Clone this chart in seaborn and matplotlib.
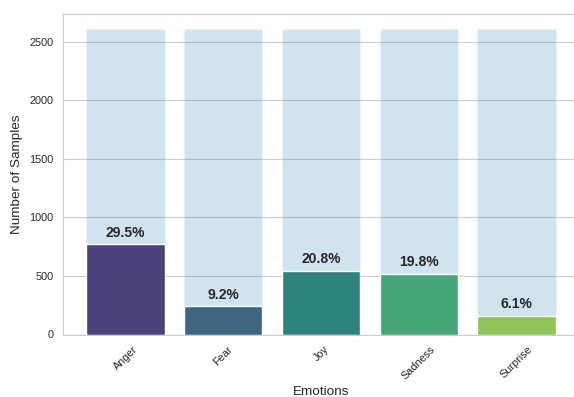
import matplotlib
matplotlib.use("Agg")
import matplotlib.pyplot as plt
import seaborn as sns
import numpy as np

emotions = ["Anger", "Fear", "Joy", "Sadness", "Surprise"]
counts = [769, 240, 542, 516, 159]
total_samples = 2606
totals = [total_samples] * len(emotions)

sns.set_style("whitegrid")
plt.rcParams['font.family'] = ['Liberation Sans', 'DejaVu Sans']

fig = plt.figure(figsize=(5.74, 3.97), dpi=100)
ax = fig.add_axes([63 / 574, (397 - 334.5) / 397, (579 - 63) / 574, (334.5 - 14) / 397])

sns.barplot(x=emotions, y=totals, color="#1f77b4", alpha=0.2, saturation=1, ax=ax, width=0.8)
sns.barplot(x=emotions, y=counts, hue=emotions, palette="viridis", legend=False, ax=ax, width=0.8)

for i, c in enumerate(counts):
    ax.text(i, c + 40, f"{c / total_samples * 100:.1f}%", ha="center", va="bottom",
            fontsize=10, fontweight="bold", color="#262626")

ax.set_xlim(-0.64, 4.64)
ax.set_ylim(0, total_samples * 1.05)
ax.set_xlabel("Emotions", fontsize=9.7, labelpad=3)
ax.set_ylabel("Number of Samples", fontsize=9.7)
ax.tick_params(axis="both", labelsize=7.8)
plt.setp(ax.get_xticklabels(), rotation=45)

fig.savefig("out.png", dpi=100)
